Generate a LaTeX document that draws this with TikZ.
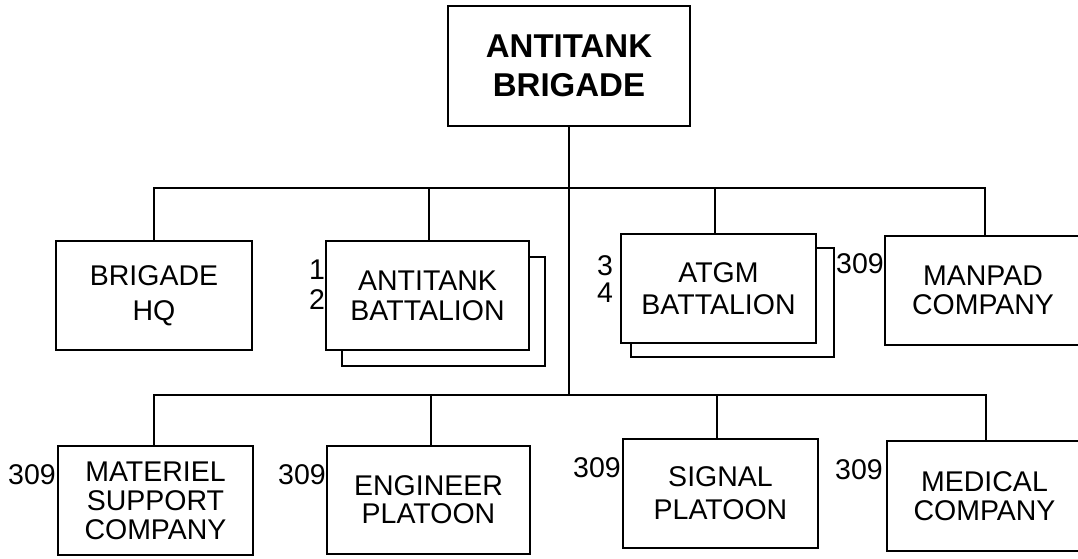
\documentclass[tikz,border=0pt]{standalone}
\usepackage{fontspec}
\setmainfont{Liberation Sans}
\tikzset{
  unit/.style={draw, line width=1.7pt, fill=white, inner sep=0pt, align=center,
    font=\fontsize{28.5}{30}\selectfont},
  tag/.style={inner sep=0pt, align=right, font=\fontsize{28.5}{30}\selectfont},
  link/.style={line width=1.7pt},
}
\begin{document}
\begin{tikzpicture}[x=1pt,y=-1pt]
\useasboundingbox (0,0) rectangle (1078,559);
\fill[white] (0,0) rectangle (1078,559);

% top
\node[unit, minimum width=242pt, minimum height=120pt,
  font=\fontsize{33}{39}\selectfont\bfseries] (top) at (569,66) {ANTITANK\\BRIGADE};

% first row
\node[unit, minimum width=196pt, minimum height=109pt,
  font=\fontsize{28.5}{35}\selectfont] (hq) at (154,295.5) {BRIGADE\\HQ};
\node[unit, minimum width=203pt, minimum height=109pt] (atbback) at (443.5,311.5) {};
\node[unit, minimum width=203pt, minimum height=109pt] (atb) at (427.5,295.5) {ANTITANK\\BATTALION};
\node[unit, minimum width=203pt, minimum height=109pt] (atgmback) at (732.5,302.5) {};
\node[unit, minimum width=195pt, minimum height=109pt,
  font=\fontsize{28.5}{32}\selectfont] (atgm) at (718.5,288.5) {ATGM\\BATTALION};
\node[unit, minimum width=196pt, minimum height=109pt,
  font=\fontsize{28.5}{29}\selectfont] (manpad) at (983,290.5) {MANPAD\\COMPANY};

% second row
\node[unit, minimum width=195pt, minimum height=109pt,
  font=\fontsize{28.5}{29}\selectfont] (mat) at (155.5,500.5) {MATERIEL\\SUPPORT\\COMPANY};
\node[unit, minimum width=203pt, minimum height=108pt,
  font=\fontsize{28.5}{28}\selectfont] (eng) at (428.5,500) {ENGINEER\\PLATOON};
\node[unit, minimum width=195pt, minimum height=109pt,
  font=\fontsize{28.5}{33}\selectfont] (sig) at (720.5,493.5) {SIGNAL\\PLATOON};
\node[unit, minimum width=195pt, minimum height=110pt,
  font=\fontsize{28.5}{29}\selectfont] (med) at (984.5,496) {MEDICAL\\COMPANY};

% connectors
\coordinate (busA) at (0,188);
\coordinate (busB) at (0,395);
\draw[link] (top.south) -- (top.south |- busB);
\draw[link] (hq.north) -- (hq.north |- busA) -- ([xshift=2pt]manpad.north |- busA) -- ([xshift=2pt]manpad.north);
\draw[link] ([xshift=1.5pt]atb.north) -- ([xshift=1.5pt]atb.north |- busA);
\draw[link] ([xshift=-3.5pt]atgm.north) -- ([xshift=-3.5pt]atgm.north |- busA);
\draw[link] ([xshift=-1.5pt]mat.north) -- ([xshift=-1.5pt]mat.north |- busB) -- ([xshift=1.5pt]med.north |- busB) -- ([xshift=1.5pt]med.north);
\draw[link] ([xshift=2.5pt]eng.north) -- ([xshift=2.5pt]eng.north |- busB);
\draw[link] ([xshift=-3.5pt]sig.north) -- ([xshift=-3.5pt]sig.north |- busB);

% tags
\node[tag] (n12) at (317,285) {1\\2};
\node[tag, font=\fontsize{28.5}{27}\selectfont] (n34) at (605,279) {3\\4};
\node[tag] (t309a) at (860,264) {309};
\node[tag] (t309b) at (32,475) {309};
\node[tag] (t309c) at (302,475) {309};
\node[tag] (t309d) at (597,468) {309};
\node[tag] (t309e) at (859,470) {309};
\end{tikzpicture}
\end{document}
